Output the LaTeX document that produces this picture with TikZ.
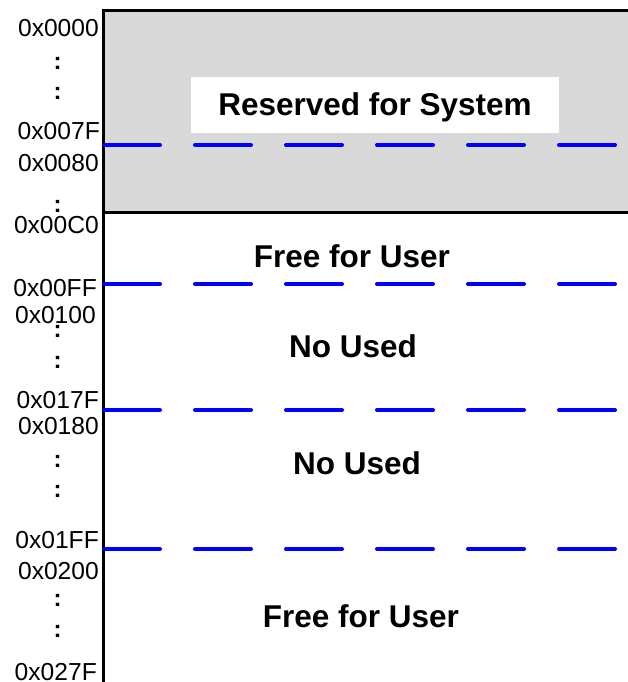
\documentclass[tikz,border=0pt]{standalone}
\usepackage{fontspec}
\setmainfont{Liberation Sans}
\usetikzlibrary{positioning}

\begin{document}
\begin{tikzpicture}[x=1pt, y=-1pt,
    addr/.style={anchor=east, inner sep=0pt, font=\fontsize{24.6}{24.6}\selectfont},
    dots/.style={inner sep=0pt, font=\fontsize{24}{24}\selectfont\bfseries},
    region/.style={inner sep=0pt, text height=22pt, text depth=0pt, font=\fontsize{31.5}{31.5}\selectfont\bfseries},
    border/.style={line width=3pt},
    split/.style={draw=blue, line width=4pt, line cap=round, dash pattern=on 56pt off 35pt}
]
    \useasboundingbox (0,0) rectangle (628,682);

    % Reserved area
    \fill[black!15] (103,11) rectangle (628,212.5);
    \draw[border] (101.5,11) -- (628,11);
    \draw[border] (103,212.5) -- (628,212.5);
    \draw[border] (103,9.5) -- (103,682);

    % Region names
    \node[region, fill=white, minimum width=368pt, minimum height=55pt] (sys) at (375,105) {Reserved for System};
    \node[region] (free1) at (352,256) {Free for User};
    \node[region] (nouse1) at (353,346.5) {No Used};
    \node[region] (nouse2) at (357,463) {No Used};
    \node[region] (free2) at (361,616) {Free for User};

    % Addresses
    \node[addr] (a0000) at (99,28) {0x0000};
    \node[addr] (a007F) at (100,131) {0x007F};
    \node[addr] (a0080) at (99,163) {0x0080};
    \node[addr] (a00C0) at (99,225) {0x00C0};
    \node[addr] (a00FF) at (97,288) {0x00FF};
    \node[addr] (a0100) at (96,315) {0x0100};
    \node[addr] (a017F) at (99,400) {0x017F};
    \node[addr] (a0180) at (99,426) {0x0180};
    \node[addr] (a01FF) at (99,540) {0x01FF};
    \node[addr] (a0200) at (99,571) {0x0200};
    \node[addr] (a027F) at (97,672) {0x027F};

    % Dots
    \node[dots] (d1) at (57.5,63) {:};
    \node[dots] (d2) at (57.5,93) {:};
    \node[dots] (d3) at (57.5,206) {:};
    \node[dots] (d4) at (57.5,331) {:};
    \node[dots] (d5) at (57.5,362) {:};
    \node[dots] (d6) at (57.5,461) {:};
    \node[dots] (d7) at (57.5,491) {:};
    \node[dots] (d8) at (57.5,600) {:};
    \node[dots] (d9) at (57.5,631) {:};

    % Boundaries
    \coordinate (b1l) at (104,145);
    \coordinate (b1r) at (628,145);
    \coordinate (b2l) at (104,284);
    \coordinate (b2r) at (628,284);
    \coordinate (b3l) at (104,410);
    \coordinate (b3r) at (628,410);
    \coordinate (b4l) at (104,549);
    \coordinate (b4r) at (628,549);

    \draw[split] (b1l) -- (b1r);
    \draw[split] (b2l) -- (b2r);
    \draw[split] (b3l) -- (b3r);
    \draw[split] (b4l) -- (b4r);
\end{tikzpicture}
\end{document}
